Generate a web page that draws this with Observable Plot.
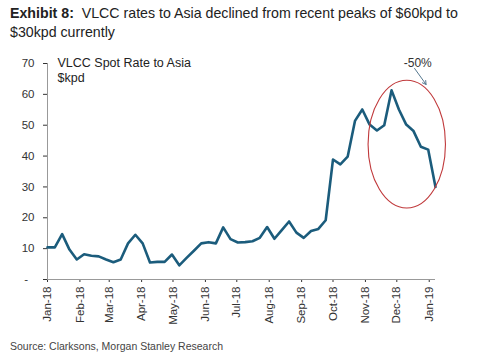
<!DOCTYPE html>
<html>
<head>
<meta charset="utf-8">
<script src="https://cdn.jsdelivr.net/npm/d3@7"></script>
<script src="https://cdn.jsdelivr.net/npm/@observablehq/plot@0.6"></script>
<style>
  html, body { margin: 0; padding: 0; background: #fff; }
  body { width: 497px; height: 357px; overflow: hidden; font-family: "Liberation Sans", Arial, sans-serif; color: #222; }
  #title { font-size: 14.2px; line-height: 19px; padding: 4px 0 0 10px; height: 41px; box-sizing: border-box; }
  #title b { font-weight: bold; }
  #source { font-size: 10.5px; color: #444; padding: 5px 0 0 10px; }
</style>
</head>
<body>
<div id="title"><b>Exhibit 8:</b>&nbsp; VLCC rates to Asia declined from recent peaks of $60kpd to<br>$30kpd currently</div>
<div id="chart"></div>
<div id="source">Source: Clarksons, Morgan Stanley Research</div>
<script>
const weeks = [
  "2018-01-01","2018-01-08","2018-01-15","2018-01-22","2018-01-29",
  "2018-02-05","2018-02-12","2018-02-19","2018-02-26",
  "2018-03-05","2018-03-12","2018-03-19","2018-03-26",
  "2018-04-02","2018-04-09","2018-04-16","2018-04-23","2018-04-30",
  "2018-05-07","2018-05-14","2018-05-21","2018-05-28",
  "2018-06-04","2018-06-11","2018-06-18","2018-06-25",
  "2018-07-02","2018-07-09","2018-07-16","2018-07-23","2018-07-30",
  "2018-08-06","2018-08-13","2018-08-20","2018-08-27",
  "2018-09-03","2018-09-10","2018-09-17","2018-09-24",
  "2018-10-01","2018-10-08","2018-10-15","2018-10-22","2018-10-29",
  "2018-11-05","2018-11-12","2018-11-19","2018-11-26",
  "2018-12-03","2018-12-10","2018-12-17","2018-12-24","2018-12-31",
  "2019-01-07"
];
const rates = [
  10.4, 10.4, 14.7, 9.7, 6.5,
  8.2, 7.7, 7.5, 6.5,
  5.6, 6.5, 11.7, 14.5,
  11.7, 5.5, 5.7, 5.7, 8.1,
  4.6, 7.0, 9.3, 11.7,
  12.1, 11.7, 16.9, 13.1,
  12.0, 12.1, 12.4, 13.5, 17.0,
  13.2, 16.0, 18.8, 15.2,
  13.5, 15.7, 16.4, 19.2,
  38.9, 37.3, 39.8, 51.4, 55.1,
  50.2, 48.3, 50.0, 61.3,
  55.1, 50.2, 48.1, 43.0, 42.1,
  30.0
];
const xTickDates = ["2018-01-01","2018-02-01","2018-03-01","2018-04-01","2018-05-01","2018-06-01",
  "2018-07-01","2018-08-01","2018-09-01","2018-10-01","2018-11-01","2018-12-01","2019-01-01"];
const yTicks = [0, 10, 20, 30, 40, 50, 60, 70];
const xDomain = ["2018-01-01", "2019-01-07"];
const seriesLabel = "VLCC Spot Rate to Asia\n$kpd";
const annotationText = "-50%";
const annotationPos = {x: "2018-12-21", y: 70.2};
const arrowFrom = {x: "2018-12-18", y: 68.4};
const arrowTo = {x: "2018-12-29", y: 63.2};
const ellipseBox = {x1: "2018-11-04", x2: "2019-01-17", y1: 23.0, y2: 64.4};

const data = weeks.map((d, i) => ({date: new Date(d), rate: rates[i]}));
const fmt = d3.utcFormat("%b-%y");

const chart = Plot.plot({
  width: 497,
  height: 294,
  marginTop: 22,
  marginLeft: 47,
  marginRight: 62,
  marginBottom: 56,
  style: {fontFamily: "'Liberation Sans', Arial, sans-serif", fontSize: "11.5px", color: "#333", background: "white", overflow: "visible"},
  x: {
    type: "utc",
    domain: xDomain.map(d => new Date(d)),
    ticks: xTickDates.map(d => new Date(d)),
    tickFormat: fmt,
    tickRotate: -90,
    tickSize: 3,
    tickPadding: 4,
    label: null
  },
  y: {
    domain: [0, 70],
    ticks: yTicks,
    tickFormat: d => d === 0 ? "-  " : String(d),
    tickSize: 4,
    tickPadding: 9,
    label: null
  },
  marks: [
    Plot.ruleY([0], {stroke: "#999"}),
    Plot.ruleX([new Date(xDomain[0])], {stroke: "#999"}),
    Plot.line(data, {x: "date", y: "rate", stroke: "#1b5c7c", strokeWidth: 2.6, strokeLinejoin: "round"}),
    Plot.dot([ellipseBox], {
      x: d => new Date(d.x1), y: "y1",
      render: (index, scales, values, dims) => {
        const e = ellipseBox;
        const X1 = scales.x(new Date(e.x1)), X2 = scales.x(new Date(e.x2));
        const Y1 = scales.y(e.y1), Y2 = scales.y(e.y2);
        const el = d3.create("svg:ellipse")
          .attr("cx", (X1 + X2) / 2).attr("cy", (Y1 + Y2) / 2)
          .attr("rx", Math.abs(X2 - X1) / 2).attr("ry", Math.abs(Y1 - Y2) / 2)
          .attr("fill", "none").attr("stroke", "#c0393b").attr("stroke-width", 1.1);
        return el.node();
      }
    }),
    Plot.arrow([{}], {
      x1: () => new Date(arrowFrom.x), y1: () => arrowFrom.y,
      x2: () => new Date(arrowTo.x), y2: () => arrowTo.y,
      stroke: "#55788f", strokeWidth: 1, headLength: 6, bend: 0
    }),
    Plot.text([annotationText], {
      x: () => new Date(annotationPos.x), y: () => annotationPos.y,
      text: d => d, fontSize: 12, fill: "#333"
    }),
    Plot.text([seriesLabel], {
      frameAnchor: "top-left", text: d => d, dx: 10, dy: -7,
      lineAnchor: "top", textAnchor: "start", lineHeight: 1.2, fontSize: 12.5, fill: "#222"
    })
  ]
});
document.getElementById("chart").appendChild(chart);
</script>
</body>
</html>
